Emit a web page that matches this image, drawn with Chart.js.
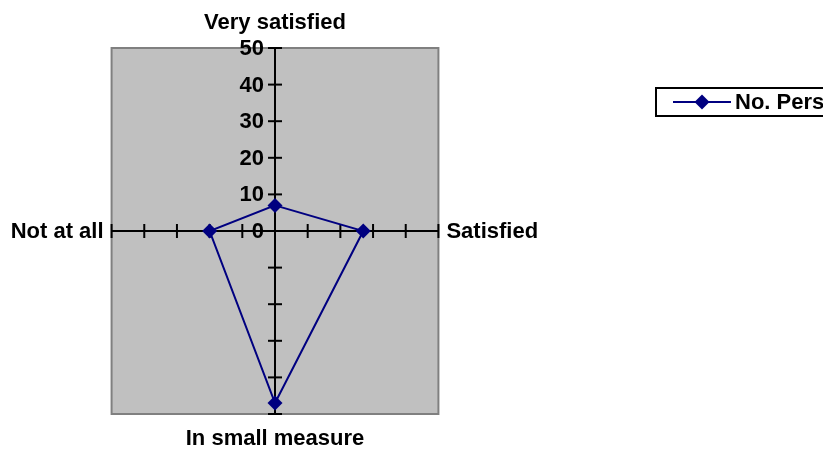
<!DOCTYPE html>
<html>
<head>
<meta charset="utf-8">
<script src="https://cdn.jsdelivr.net/npm/chart.js@4/dist/chart.umd.min.js"></script>
<style>
  html, body { margin: 0; padding: 0; background: #fff; }
  #wrap { width: 823px; height: 450px; position: relative; }
</style>
</head>
<body>
<div id="wrap"><canvas id="radar-chart"></canvas></div>
<script>
// chart data
const categories = ['Very satisfied', 'Satisfied', 'In small measure', 'Not at all'];
const persons = [7, 27, 47, 20];
const tickValues = [0, 10, 20, 30, 40, 50];
const seriesName = 'No. Persons';

// the original radar is wider than tall, squeeze x of the radial scale
const SQUEEZE = 0.893;
const FONT = 'bold 22px "Liberation Sans", Arial, sans-serif';

const Radial = Chart.registry.getScale('radialLinear');
class OvalScale extends Radial {
    getPointPosition(index, distance, extra = 0) {
        const a = this.getIndexAngle(index) - Math.PI / 2 + extra;
        return {
            x: Math.cos(a) * distance * SQUEEZE + this.xCenter,
            y: Math.sin(a) * distance + this.yCenter,
            angle: a
        };
    }
}
OvalScale.id = 'oval';
OvalScale.defaults = Radial.defaults;
Chart.register(OvalScale);

// gray plot box, tick marks, labels and legend
const excelLook = {
    id: 'excelLook',
    beforeDraw(chart) {
        const s = chart.scales.r;
        const ctx = chart.ctx;
        const rx = s.drawingArea * SQUEEZE, ry = s.drawingArea;
        ctx.save();
        ctx.fillStyle = '#c0c0c0';
        ctx.fillRect(s.xCenter - rx, s.yCenter - ry, rx * 2, ry * 2);
        ctx.strokeStyle = '#808080';
        ctx.lineWidth = 2;
        ctx.strokeRect(s.xCenter - rx, s.yCenter - ry, rx * 2, ry * 2);
        ctx.restore();
    },
    beforeDatasetsDraw(chart) {
        const s = chart.scales.r;
        const ctx = chart.ctx;
        ctx.save();
        ctx.strokeStyle = '#000';
        ctx.lineWidth = 2;
        for (let i = 0; i < categories.length; i++) {
            tickValues.forEach(v => {
                if (v === 0) return;
                const p = s.getPointPositionForValue(i, v);
                const vertical = Math.abs(Math.cos(p.angle)) < 0.5;
                ctx.beginPath();
                if (vertical) { ctx.moveTo(p.x - 7, p.y); ctx.lineTo(p.x + 7, p.y); }
                else { ctx.moveTo(p.x, p.y - 7); ctx.lineTo(p.x, p.y + 7); }
                ctx.stroke();
            });
        }
        // value labels on the top axis
        ctx.font = FONT;
        ctx.fillStyle = '#000';
        ctx.textAlign = 'right';
        ctx.textBaseline = 'middle';
        tickValues.forEach(v => {
            const p = s.getPointPositionForValue(0, v);
            ctx.fillText(String(v), p.x - 11, p.y + 1);
        });
        // category labels
        const ends = categories.map((c, i) => s.getPointPosition(i, s.drawingArea));
        ctx.textBaseline = 'alphabetic';
        ctx.textAlign = 'center';
        ctx.fillText(chart.data.labels[0], ends[0].x, ends[0].y - 19);
        ctx.fillText(chart.data.labels[2], ends[2].x, ends[2].y + 31);
        ctx.textBaseline = 'middle';
        ctx.textAlign = 'left';
        ctx.fillText(chart.data.labels[1], ends[1].x + 8, ends[1].y + 1);
        ctx.textAlign = 'right';
        ctx.fillText(chart.data.labels[3], ends[3].x - 8, ends[3].y + 1);
        ctx.restore();
    },
    afterDraw(chart) {
        const ctx = chart.ctx;
        const ds = chart.data.datasets[0];
        ctx.save();
        ctx.strokeStyle = '#000';
        ctx.lineWidth = 2;
        ctx.strokeRect(656, 88, 200, 28);
        ctx.strokeStyle = ds.borderColor;
        ctx.lineWidth = 2;
        ctx.beginPath();
        ctx.moveTo(673, 102);
        ctx.lineTo(731, 102);
        ctx.stroke();
        ctx.fillStyle = ds.borderColor;
        ctx.beginPath();
        ctx.moveTo(702, 94.5); ctx.lineTo(709.5, 102); ctx.lineTo(702, 109.5); ctx.lineTo(694.5, 102);
        ctx.closePath();
        ctx.fill();
        ctx.font = FONT;
        ctx.fillStyle = '#000';
        ctx.textAlign = 'left';
        ctx.textBaseline = 'middle';
        ctx.fillText(ds.label, 735, 103);
        ctx.restore();
    }
};

new Chart(document.getElementById('radar-chart'), {
    type: 'radar',
    data: {
        labels: categories,
        datasets: [
            {
                label: seriesName,
                data: persons,
                borderColor: '#000080',
                backgroundColor: '#000080',
                borderWidth: 2,
                fill: false,
                tension: 0,
                pointStyle: 'rectRot',
                pointRadius: 7.5,
                pointHoverRadius: 7.5,
                pointBackgroundColor: '#000080',
                pointBorderColor: '#000080',
                pointBorderWidth: 0
            }
        ]
    },
    options: {
        responsive: true,
        maintainAspectRatio: false,
        animation: false,
        layout: { padding: { left: 92, right: 365, top: 48, bottom: 36 } },
        plugins: {
            legend: { display: false },
            tooltip: { enabled: false }
        },
        scales: {
            r: {
                type: 'oval',
                min: 0,
                max: 50,
                ticks: { stepSize: 10, display: false },
                grid: { display: false },
                angleLines: { display: true, color: '#000', lineWidth: 2 },
                pointLabels: { display: false }
            }
        }
    },
    plugins: [excelLook]
});
</script>
</body>
</html>
